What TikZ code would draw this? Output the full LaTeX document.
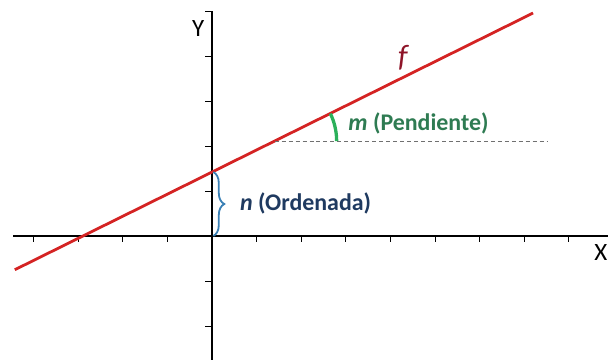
\documentclass[tikz,border=0pt]{standalone}
\usepackage{fontspec}
\setmainfont{Carlito}
\usepackage{xcolor}
\usetikzlibrary{decorations.pathreplacing}
\definecolor{LineRed}{HTML}{D42323}
\definecolor{LabelRed}{HTML}{8E1428}
\definecolor{ArcGreen}{HTML}{2BB05A}
\definecolor{TextGreen}{HTML}{2E7B52}
\definecolor{BraceBlue}{HTML}{3A80B5}
\definecolor{TextNavy}{HTML}{1F3A60}
\definecolor{DashGray}{HTML}{707070}

\begin{document}
\begin{tikzpicture}[x=1.5735cm, y=1.5875cm,
    axis/.style={black, line width=1.2pt},
    tick/.style={black, line width=0.9pt},
    axislabel/.style={font=\fontsize{25}{25}\selectfont},
    partlabel/.style={anchor=west, font=\bfseries\fontsize{24}{24}\selectfont}]
            \useasboundingbox (-4.753,-2.756) rectangle (8.879,5.244);
            % axes with ticks
            \draw[axis] (-4.46,0) -- (8.879,0);
            \draw[axis] (0,-2.756) -- (0,5);
            \foreach \i in {-4,...,-1,1,2,...,8} \draw[tick] (\i,0) -- (\i,-0.13);
            \foreach \j in {-2,-1,1,2,3,4,5} \draw[tick] (0,\j) -- (-0.15,\j);
            \node[axislabel] (ylab) at (-0.31,4.62) {Y};
            \node[axislabel] (xlab) at (8.72,-0.36) {X};

            % the line f
            \coordinate (fstart) at (-4.42,-0.75);
            \coordinate (fend) at (7.2,4.955);
            \draw[LineRed, line width=2.8pt] (fstart) -- (fend);
            \node[text=LabelRed, font=\itshape\fontsize{31}{31}\selectfont] (flab) at (4.28,3.96) {f};

            % slope
            \coordinate (mvertex) at (1.405,2.11);
            \coordinate (mend) at (7.51,2.11);
            \draw[DashGray, line width=0.6pt, dash pattern=on 4pt off 3pt] (mvertex) -- (mend);
            \draw[ArcGreen, line width=3.3pt] ([shift={(0:1.39)}]mvertex) arc[start angle=0, end angle=26, radius=1.39];
            \node[partlabel, text=TextGreen] (pendiente) at (2.98,2.51) {\textit{m} (Pendiente)};

            % intercept
            \draw[BraceBlue, line width=1.8pt, decorate, decoration={brace, amplitude=11pt}] (0.03,1.42) -- (0.03,0);
            \node[partlabel, text=TextNavy] (ordenada) at (0.55,0.73) {\textit{n} (Ordenada)};
\end{tikzpicture}
\end{document}
